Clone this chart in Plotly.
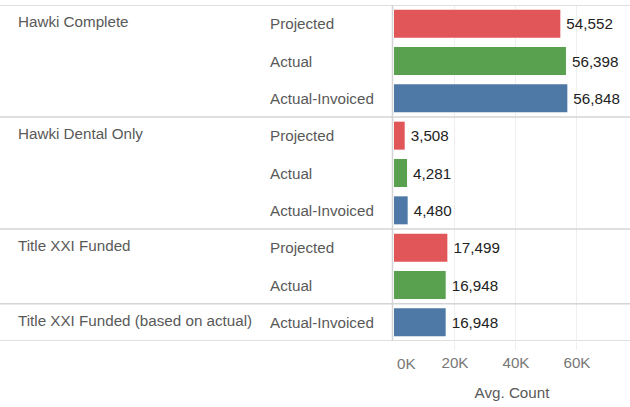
import plotly.graph_objects as go

groups = ["Hawki Complete", "Hawki Dental Only", "Title XXI Funded", "Title XXI Funded (based on actual)"]
group_rows = [0, 3, 6, 8]
measures = ["Projected", "Actual", "Actual-Invoiced",
            "Projected", "Actual", "Actual-Invoiced",
            "Projected", "Actual",
            "Actual-Invoiced"]
values = [54552, 56398, 56848, 3508, 4281, 4480, 17499, 16948, 16948]
tick_vals = [20000, 40000, 60000]
tick_text = ["20K", "40K", "60K"]
separators = [-0.5, 2.5, 5.5, 7.5, 8.5]

color_map = {"Projected": "#E15759", "Actual": "#59A14F", "Actual-Invoiced": "#4E79A7"}
FONT = "Liberation Sans, Arial, sans-serif"
FS = 15.2
W, H = 630, 407
x0 = 394

rows = list(range(len(values)))
fig = go.Figure()
fig.add_trace(go.Bar(
    x=values, y=rows, orientation="h",
    marker=dict(color=[color_map[m] for m in measures], line=dict(width=0)),
    width=0.75,
    text=["\u2009" + f"{v:,}" for v in values], textposition="outside",
    textfont=dict(family=FONT, size=FS, color="#222222"),
    cliponaxis=False, hoverinfo="skip",
))

annotations = []
for g, r in zip(groups, group_rows):
    annotations.append(dict(x=16 / W, xref="paper", y=r, yref="y", text=g, showarrow=False,
                            xanchor="left", yanchor="middle", yshift=2,
                            font=dict(family=FONT, size=FS, color="#595959")))
for r, m in zip(rows, measures):
    annotations.append(dict(x=268 / W, xref="paper", y=r, yref="y", text=m, showarrow=False,
                            xanchor="left", yanchor="middle",
                            font=dict(family=FONT, size=FS, color="#595959")))
annotations.append(dict(x=0, xref="x", y=-0.0, yref="paper", text="0K", showarrow=False,
                        xanchor="left", yanchor="top", xshift=1, yshift=-12,
                        font=dict(family=FONT, size=FS, color="#777777")))

shapes = []
for s in separators:
    shapes.append(dict(type="line", xref="paper", yref="y", x0=0, x1=1, y0=s, y1=s,
                       line=dict(color="#d4d4d4", width=1.5)))
shapes.append(dict(type="line", xref="paper", yref="y", x0=(x0 - 1.5) / W, x1=(x0 - 1.5) / W,
                   y0=-0.5, y1=8.5, line=dict(color="#d4d4d4", width=1.5)))

fig.update_layout(
    width=W, height=H,
    margin=dict(l=0, r=0, t=5, b=66),
    paper_bgcolor="white", plot_bgcolor="white",
    showlegend=False,
    xaxis=dict(domain=[x0 / W, 1], range=[0, 77400], tickvals=tick_vals, ticktext=tick_text,
               showgrid=True, gridcolor="#efefef", gridwidth=1, zeroline=False,
               ticks="outside", ticklen=8, tickcolor="#efefef",
               tickfont=dict(family=FONT, size=FS, color="#777777"),
               title=dict(text="Avg. Count", font=dict(family=FONT, size=FS, color="#595959"), standoff=17),
               fixedrange=True),
    yaxis=dict(range=[8.5, -0.5], showticklabels=False, showgrid=False, zeroline=False,
               fixedrange=True),
    annotations=annotations, shapes=shapes,
    bargap=0.25,
)
fig.write_html("out.html", config={"displayModeBar": False},
               post_script="document.body.style.margin='0';document.body.style.overflow='hidden';")
